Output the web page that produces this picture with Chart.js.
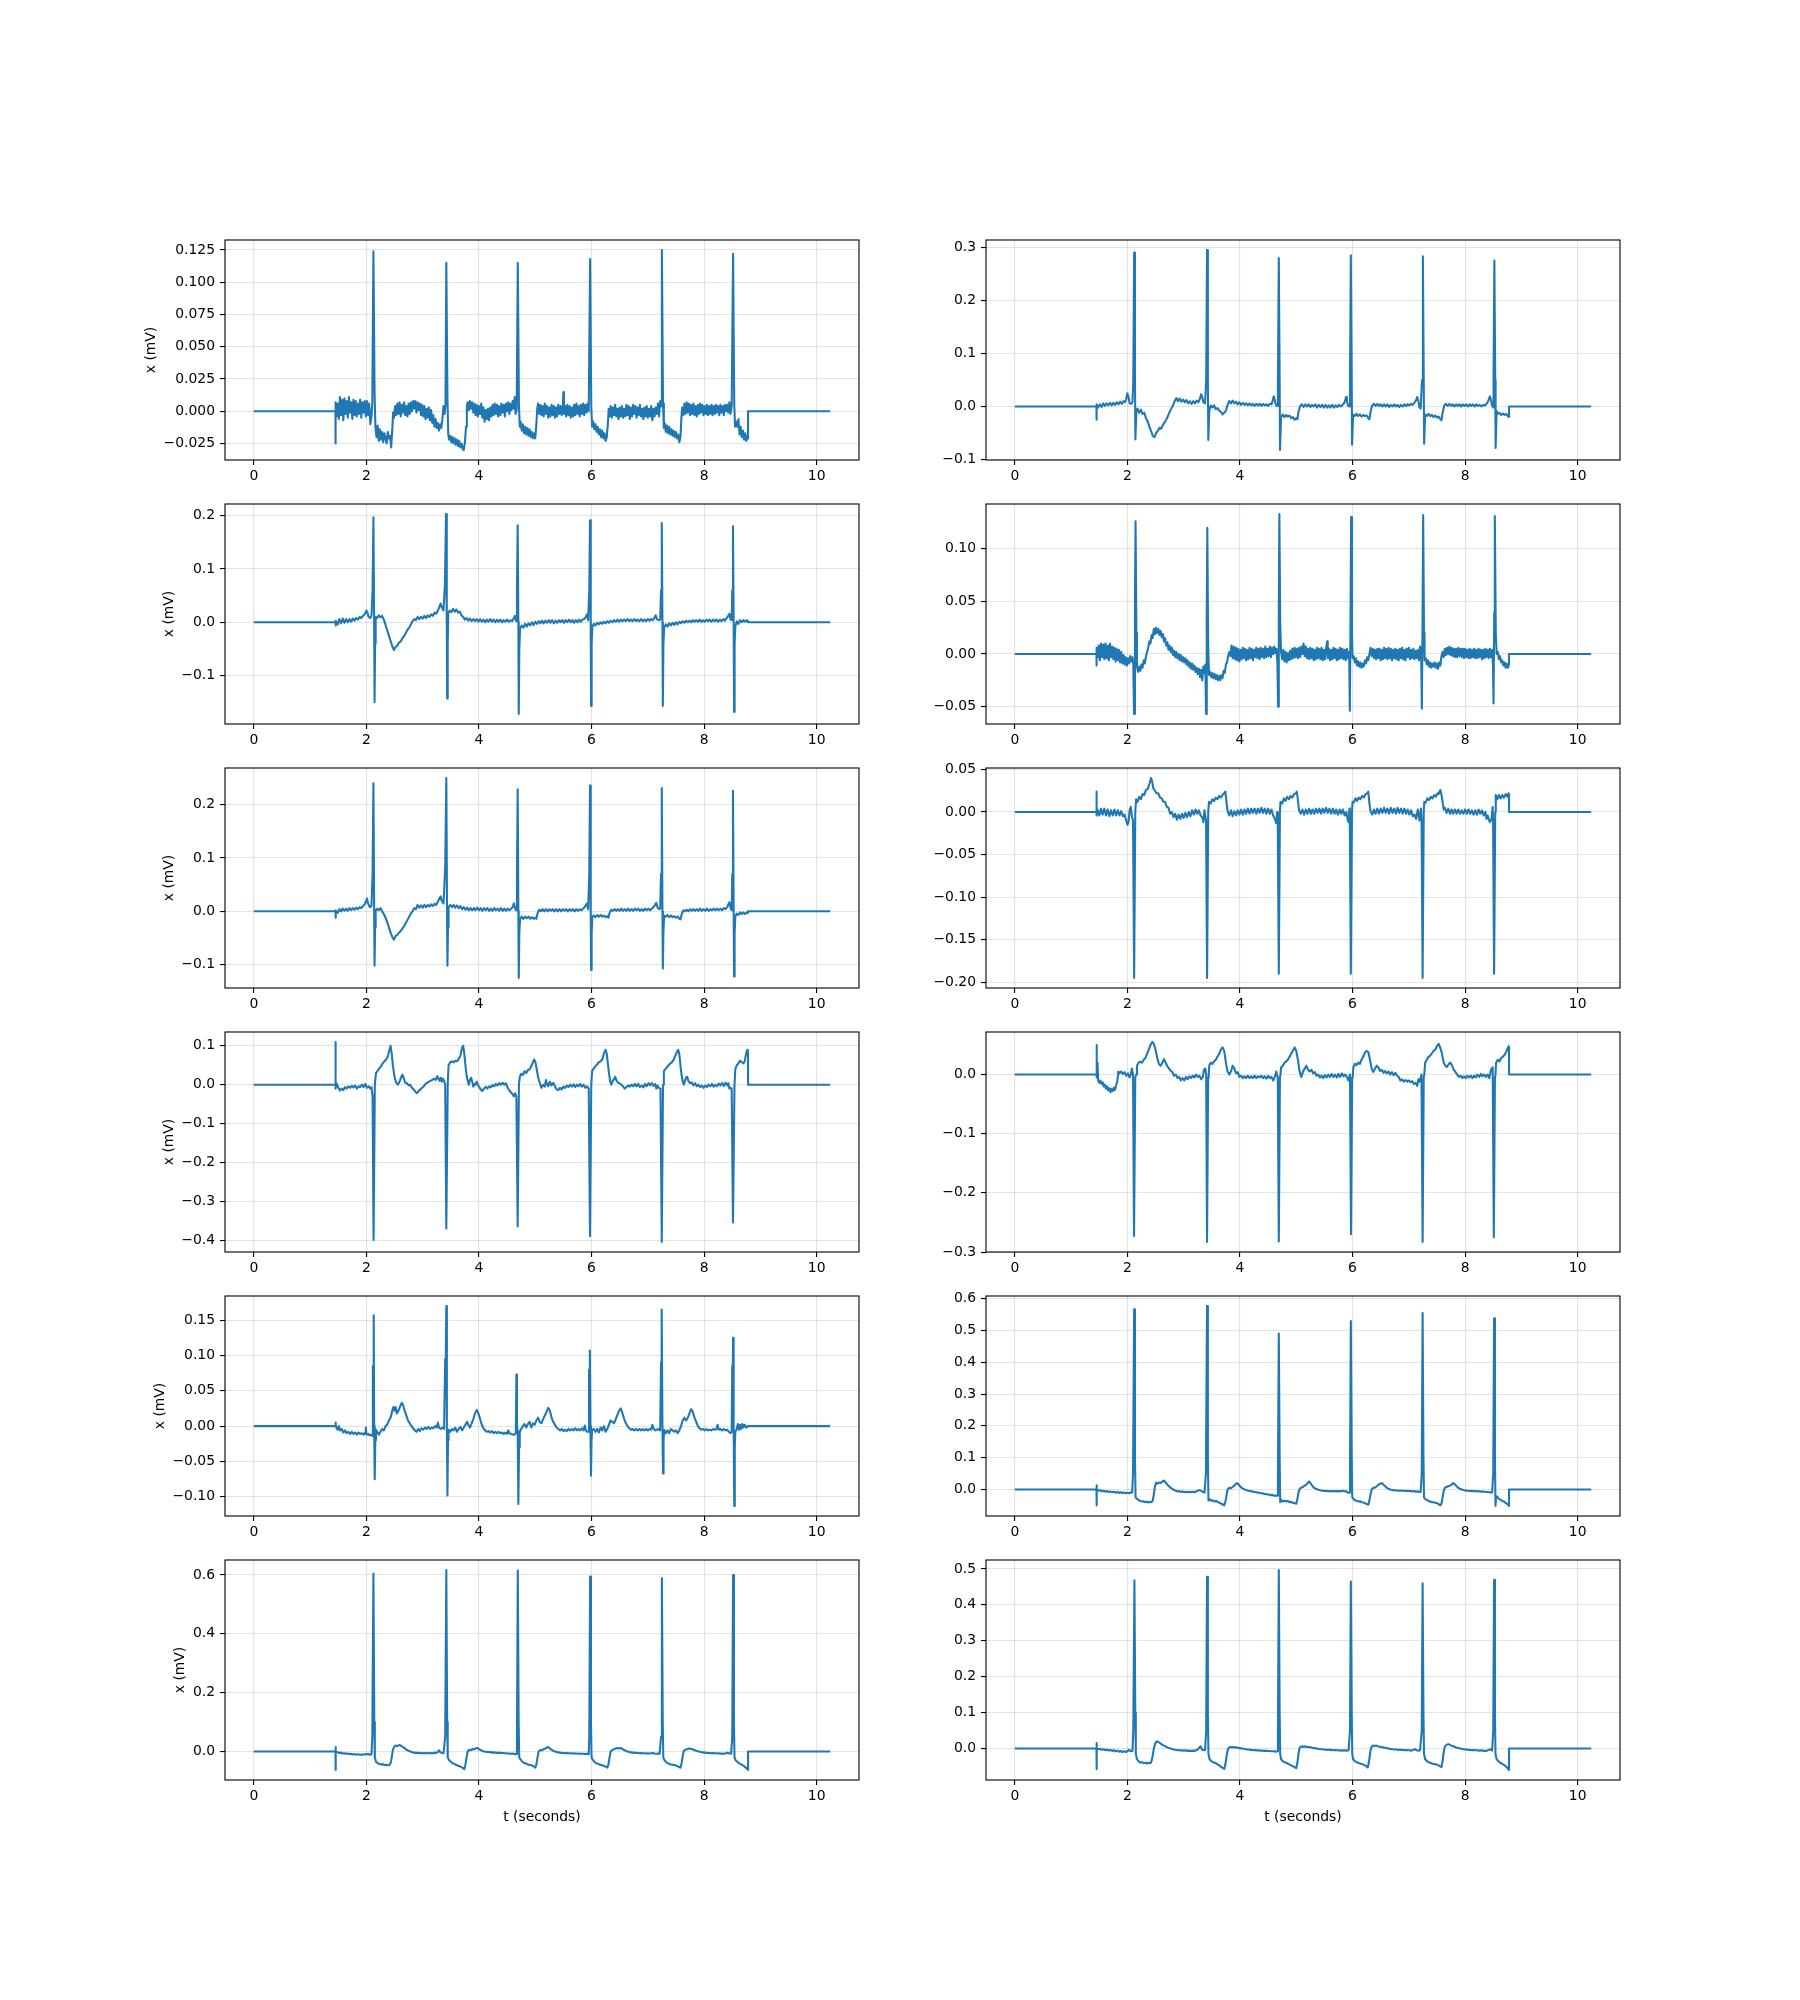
<!DOCTYPE html>
<html><head><meta charset="utf-8">
<script src="https://cdn.jsdelivr.net/npm/chart.js@4"></script>
<style>
html,body{margin:0;padding:0;background:#fff;}
body{width:1800px;height:2000px;position:relative;overflow:hidden;}
canvas{position:absolute;}
</style></head><body>
<script>
// ---------- DATA (t in seconds, x in mV) ----------
const xTicks = [0, 2, 4, 6, 8, 10];
const xLabel = 't (seconds)';
const yLabel = 'x (mV)';

const leadA = [[0,0],[1.45,0],[1.451,-0.025],[1.455,0.007],[1.47,-0.004],[1.49,0.006],[1.51,-0.006],[1.53,0.011],[1.55,-0.003],[1.57,0.009],[1.59,-0.007],[1.61,0.010],[1.63,-0.002],[1.65,0.008],[1.67,-0.005],[1.69,0.011],[1.71,-0.001],[1.73,0.007],[1.75,-0.006],[1.77,0.009],[1.79,-0.003],[1.81,0.008],[1.83,-0.004],[1.85,0.006],[1.87,-0.002],[1.89,0.009],[1.91,-0.005],[1.93,0.007],[1.95,-0.001],[1.97,0.008],[1.99,-0.004],[2.01,0.008],[2.03,-0.003],[2.05,0.006],[2.07,-0.010],[2.09,-0.004],[2.105,0.006],[2.125,0.124],[2.145,0.015],[2.16,-0.012],
[2.18,-0.020],[2.2,-0.011],[2.22,-0.023],[2.24,-0.014],[2.26,-0.022],[2.28,-0.016],[2.30,-0.024],[2.32,-0.017],[2.34,-0.021],[2.36,-0.025],[2.38,-0.016],[2.40,-0.021],[2.42,-0.019],[2.44,-0.028],[2.46,-0.014],[2.475,-0.001],
[2.49,-0.005],[2.51,0.004],[2.53,-0.003],[2.55,0.006],[2.57,-0.002],[2.59,0.007],[2.61,-0.004],[2.63,0.005],[2.65,-0.001],[2.67,0.007],[2.69,-0.003],[2.71,0.004],[2.73,-0.004],[2.75,0.006],[2.77,-0.002],[2.79,0.007],[2.81,0.000],[2.83,0.008],[2.85,0.002],[2.87,0.008],[2.89,-0.001],[2.91,0.007],[2.93,0.001],[2.95,0.006],[2.97,-0.003],[2.99,0.005],[3.01,-0.004],[3.03,0.004],[3.05,-0.006],[3.07,0.002],[3.09,-0.005],[3.11,0.003],[3.13,-0.007],[3.15,0.001],[3.17,-0.009],[3.19,-0.003],[3.21,-0.012],[3.23,-0.006],[3.25,-0.013],[3.27,-0.009],[3.29,-0.015],[3.31,-0.010],[3.33,-0.013],[3.35,-0.006],[3.37,0.004],[3.39,-0.002],[3.405,0.005],[3.42,0.115],[3.44,0.010],[3.455,-0.018],
[3.47,-0.022],[3.49,-0.019],[3.51,-0.024],[3.53,-0.020],[3.55,-0.025],[3.57,-0.021],[3.59,-0.026],[3.61,-0.022],[3.63,-0.027],[3.65,-0.023],[3.67,-0.028],[3.69,-0.025],[3.71,-0.029],[3.73,-0.030],[3.75,-0.024],[3.77,-0.012],[3.785,0.004],
[3.80,0.007],[3.82,0.001],[3.84,0.008],[3.86,0.002],[3.88,0.007],[3.90,-0.001],[3.92,0.006],[3.94,-0.003],[3.96,0.005],[3.98,-0.004],[4.00,0.004],[4.02,-0.002],[4.04,0.006],[4.06,-0.005],[4.08,0.003],[4.10,-0.008],[4.12,0.001],[4.14,-0.006],[4.16,0.002],[4.18,-0.007],[4.20,0.003],[4.22,-0.004],[4.24,0.005],[4.26,-0.003],[4.28,0.006],[4.30,-0.002],[4.32,0.005],[4.34,-0.004],[4.36,0.004],[4.38,-0.003],[4.40,0.006],[4.42,-0.001],[4.44,0.005],[4.46,-0.004],[4.48,0.006],[4.50,0.000],[4.52,0.007],[4.54,-0.002],[4.56,0.006],[4.58,0.001],[4.60,0.008],[4.62,0.002],[4.635,0.011],[4.65,-0.002],[4.67,0.001],[4.69,0.115],[4.71,0.005],[4.725,-0.012],
[4.74,-0.008],[4.76,-0.015],[4.78,-0.010],[4.80,-0.017],[4.82,-0.012],[4.84,-0.018],[4.86,-0.013],[4.88,-0.019],[4.90,-0.014],[4.92,-0.020],[4.94,-0.016],[4.96,-0.021],[4.98,-0.017],[5.00,-0.021],[5.02,-0.010],[5.035,0.002],
[5.05,0.006],[5.07,-0.002],[5.09,0.005],[5.11,-0.003],[5.13,0.004],[5.15,-0.004],[5.17,0.006],[5.19,-0.002],[5.21,0.004],[5.23,-0.005],[5.25,0.003],[5.27,-0.004],[5.29,0.005],[5.31,-0.003],[5.33,0.004],[5.35,-0.005],[5.37,0.003],[5.39,-0.004],[5.41,0.005],[5.43,-0.002],[5.45,0.004],[5.47,-0.003],[5.49,0.003],[5.50,0.015],[5.51,-0.002],[5.53,0.004],[5.55,-0.004],[5.57,0.005],[5.59,-0.003],[5.61,0.004],[5.63,-0.005],[5.65,0.003],[5.67,-0.004],[5.69,0.005],[5.71,-0.003],[5.73,0.006],[5.75,-0.002],[5.77,0.004],[5.79,-0.004],[5.81,0.005],[5.83,-0.002],[5.85,0.006],[5.87,-0.003],[5.89,0.005],[5.91,-0.001],[5.93,0.006],[5.95,0.000],[5.975,0.118],[5.995,0.004],[6.01,-0.012],
[6.03,-0.008],[6.05,-0.014],[6.07,-0.010],[6.09,-0.016],[6.11,-0.012],[6.13,-0.018],[6.15,-0.014],[6.17,-0.020],[6.19,-0.015],[6.21,-0.021],[6.23,-0.017],[6.25,-0.023],[6.27,-0.020],[6.29,-0.010],[6.305,0.002],
[6.32,-0.004],[6.34,0.004],[6.36,-0.005],[6.38,0.003],[6.40,-0.003],[6.42,0.005],[6.44,-0.004],[6.46,0.002],[6.48,-0.006],[6.50,0.003],[6.52,-0.004],[6.54,0.004],[6.56,-0.005],[6.58,0.002],[6.60,-0.004],[6.62,0.005],[6.64,-0.003],[6.66,0.004],[6.68,-0.006],[6.70,0.003],[6.72,-0.004],[6.74,0.005],[6.76,-0.002],[6.78,0.004],[6.80,-0.005],[6.82,0.003],[6.84,-0.003],[6.86,0.005],[6.88,-0.004],[6.90,0.002],[6.92,-0.006],[6.94,0.003],[6.96,-0.004],[6.98,0.004],[7.00,-0.005],[7.02,0.002],[7.04,-0.004],[7.06,0.004],[7.08,-0.007],[7.10,0.002],[7.12,-0.004],[7.14,0.003],[7.16,-0.002],[7.18,0.006],[7.20,-0.004],[7.22,0.008],[7.235,0.004],[7.25,0.125],[7.27,0.006],[7.285,-0.013],
[7.30,-0.009],[7.32,-0.016],[7.34,-0.011],[7.36,-0.017],[7.38,-0.012],[7.40,-0.018],[7.42,-0.014],[7.44,-0.019],[7.46,-0.015],[7.48,-0.020],[7.50,-0.016],[7.52,-0.021],[7.54,-0.018],[7.56,-0.024],[7.58,-0.020],[7.595,-0.006],[7.61,0.003],
[7.63,-0.003],[7.65,0.006],[7.67,-0.002],[7.69,0.007],[7.71,-0.001],[7.73,0.006],[7.75,-0.003],[7.77,0.005],[7.79,-0.002],[7.81,0.006],[7.83,-0.003],[7.85,0.004],[7.87,-0.004],[7.89,0.005],[7.91,-0.002],[7.93,0.006],[7.95,-0.001],[7.97,0.005],[7.99,-0.003],[8.01,0.004],[8.03,-0.002],[8.05,0.005],[8.07,-0.003],[8.09,0.004],[8.11,-0.002],[8.13,0.005],[8.15,-0.003],[8.17,0.004],[8.19,-0.002],[8.21,0.005],[8.23,-0.001],[8.25,0.004],[8.27,-0.003],[8.29,0.005],[8.31,-0.001],[8.33,0.004],[8.35,-0.003],[8.37,0.005],[8.39,0.000],[8.41,0.005],[8.43,-0.001],[8.45,0.007],[8.47,-0.002],[8.49,0.004],[8.515,0.122],[8.535,0.006],[8.55,-0.012],
[8.57,-0.008],[8.59,-0.012],[8.61,-0.006],[8.63,-0.018],[8.65,-0.012],[8.67,-0.020],[8.69,-0.015],[8.71,-0.022],[8.73,-0.017],[8.75,-0.023],[8.77,-0.019],[8.78,-0.021],[8.781,0],[10.24,0]];

const leadB = [[0,0],[1.45,0],[1.451,-0.025],[1.455,0.004],[1.48,-0.002],[1.51,0.004],[1.54,-0.001],[1.57,0.006],[1.60,0.001],[1.63,0.006],[1.66,0.002],[1.69,0.007],[1.72,0.002],[1.75,0.007],[1.78,0.003],[1.81,0.008],[1.84,0.004],[1.87,0.009],[1.90,0.005],[1.93,0.010],[1.96,0.008],[1.98,0.015],[2.00,0.025],[2.02,0.018],[2.04,0.006],[2.07,0.005],[2.09,0.008],[2.105,0.05],[2.12,0.29],[2.135,0.05],[2.142,-0.062],[2.16,-0.01],[2.18,-0.004],[2.21,-0.012],[2.24,-0.006],[2.27,-0.014],[2.30,-0.012],[2.33,-0.022],[2.36,-0.028],[2.39,-0.038],[2.42,-0.046],[2.45,-0.055],[2.48,-0.058],[2.51,-0.050],[2.54,-0.046],[2.57,-0.040],[2.60,-0.042],[2.63,-0.035],[2.66,-0.030],[2.69,-0.025],[2.72,-0.018],[2.75,-0.010],[2.78,-0.004],[2.81,0.002],[2.84,0.010],[2.87,0.016],[2.90,0.010],[2.93,0.015],[2.96,0.009],[2.99,0.013],[3.02,0.008],[3.05,0.012],[3.08,0.006],[3.11,0.010],[3.14,0.005],[3.17,0.010],[3.20,0.006],[3.23,0.011],[3.26,0.008],[3.29,0.015],[3.31,0.023],[3.33,0.018],[3.35,0.008],[3.38,0.006],[3.40,0.05],[3.415,0.295],[3.43,0.05],[3.438,-0.063],[3.455,-0.008],[3.48,0.002],[3.51,-0.002],[3.54,0.002],[3.57,-0.005],[3.60,-0.003],[3.63,-0.008],[3.66,-0.010],[3.69,-0.015],[3.72,-0.012],[3.75,-0.008],[3.78,0.003],[3.81,0.010],[3.84,0.006],[3.87,0.011],[3.90,0.006],[3.93,0.009],[3.96,0.004],[3.99,0.008],[4.02,0.003],[4.05,0.007],[4.08,0.003],[4.11,0.006],[4.14,0.002],[4.17,0.006],[4.20,0.002],[4.23,0.005],[4.26,0.001],[4.29,0.005],[4.32,0.002],[4.35,0.005],[4.38,0.001],[4.41,0.005],[4.44,0.002],[4.47,0.004],[4.50,0.001],[4.53,0.005],[4.56,0.004],[4.58,0.010],[4.60,0.019],[4.62,0.012],[4.64,0.003],[4.66,0.001],[4.675,0.05],[4.69,0.28],[4.705,0.05],[4.712,-0.082],[4.73,-0.02],[4.76,-0.015],[4.79,-0.020],[4.82,-0.016],[4.85,-0.019],[4.88,-0.017],[4.91,-0.022],[4.94,-0.020],[4.97,-0.025],[5.00,-0.022],[5.02,-0.024],[5.04,-0.010],[5.07,0.001],[5.10,0.004],[5.13,-0.001],[5.16,0.004],[5.19,0.000],[5.22,0.004],[5.25,-0.001],[5.28,0.003],[5.31,0.000],[5.34,0.004],[5.37,-0.002],[5.40,0.003],[5.43,-0.001],[5.46,0.003],[5.49,-0.002],[5.52,0.003],[5.55,-0.002],[5.58,0.002],[5.61,-0.002],[5.64,0.003],[5.67,-0.002],[5.70,0.002],[5.73,-0.001],[5.76,0.003],[5.79,0.000],[5.82,0.003],[5.85,0.006],[5.87,0.012],[5.885,0.018],[5.90,0.010],[5.92,0.002],[5.94,0.000],[5.955,0.05],[5.97,0.285],[5.985,0.05],[5.992,-0.072],[6.01,-0.015],[6.04,-0.018],[6.07,-0.014],[6.10,-0.018],[6.13,-0.015],[6.16,-0.019],[6.19,-0.016],[6.22,-0.018],[6.25,-0.017],[6.28,-0.022],[6.30,-0.024],[6.32,-0.010],[6.35,0.002],[6.38,0.005],[6.41,0.001],[6.44,0.005],[6.47,0.001],[6.50,0.004],[6.53,0.000],[6.56,0.004],[6.59,0.000],[6.62,0.004],[6.65,-0.001],[6.68,0.003],[6.71,0.000],[6.74,0.004],[6.77,0.000],[6.80,0.003],[6.83,-0.001],[6.86,0.003],[6.89,0.000],[6.92,0.004],[6.95,0.001],[6.98,0.004],[7.01,0.002],[7.04,0.005],[7.07,0.003],[7.10,0.007],[7.13,0.012],[7.15,0.018],[7.17,0.010],[7.19,-0.002],[7.21,-0.004],[7.235,0.05],[7.25,0.283],[7.265,0.05],[7.272,-0.07],[7.29,-0.015],[7.32,-0.018],[7.35,-0.014],[7.38,-0.018],[7.41,-0.016],[7.44,-0.020],[7.47,-0.017],[7.50,-0.021],[7.53,-0.019],[7.56,-0.024],[7.58,-0.026],[7.60,-0.012],[7.63,0.002],[7.66,0.005],[7.69,0.001],[7.72,0.005],[7.75,0.001],[7.78,0.004],[7.81,0.000],[7.84,0.004],[7.87,0.001],[7.90,0.004],[7.93,0.000],[7.96,0.004],[7.99,0.001],[8.02,0.004],[8.05,0.000],[8.08,0.004],[8.11,0.001],[8.14,0.004],[8.17,0.000],[8.20,0.004],[8.23,0.001],[8.26,0.003],[8.29,0.000],[8.32,0.003],[8.35,0.002],[8.38,0.005],[8.41,0.010],[8.44,0.019],[8.46,0.012],[8.48,0.002],[8.50,-0.002],[8.505,0.05],[8.52,0.275],[8.535,0.05],[8.542,-0.078],[8.56,-0.008],[8.58,-0.014],[8.61,-0.012],[8.64,-0.016],[8.67,-0.013],[8.70,-0.016],[8.73,-0.014],[8.76,-0.018],[8.78,-0.020],[8.781,0],[10.24,0]];

const leadC = [[0,0],[1.45,0],[1.451,-0.006],[1.46,0.003],[1.49,-0.004],[1.52,0.006],[1.55,-0.002],[1.58,0.007],[1.61,-0.001],[1.64,0.006],[1.67,0.000],[1.70,0.006],[1.73,0.001],[1.76,0.007],[1.79,0.003],[1.82,0.008],[1.85,0.005],[1.88,0.010],[1.91,0.008],[1.94,0.012],[1.97,0.015],[2.00,0.022],[2.02,0.018],[2.04,0.010],[2.07,0.008],[2.09,0.012],[2.11,0.06],[2.125,0.197],[2.138,0.0],[2.145,-0.15],[2.155,-0.04],[2.165,0.010],[2.19,0.008],[2.22,0.013],[2.25,0.009],[2.28,0.012],[2.31,0.005],[2.34,-0.005],[2.37,-0.015],[2.40,-0.025],[2.43,-0.035],[2.46,-0.045],[2.49,-0.052],[2.52,-0.046],[2.55,-0.044],[2.58,-0.038],[2.61,-0.036],[2.64,-0.030],[2.67,-0.026],[2.70,-0.020],[2.73,-0.014],[2.76,-0.010],[2.79,-0.004],[2.82,0.002],[2.85,0.006],[2.88,0.004],[2.91,0.010],[2.94,0.006],[2.97,0.010],[3.00,0.007],[3.03,0.012],[3.06,0.008],[3.09,0.013],[3.12,0.010],[3.15,0.015],[3.18,0.012],[3.21,0.018],[3.24,0.016],[3.27,0.022],[3.30,0.030],[3.32,0.035],[3.34,0.028],[3.37,0.022],[3.395,0.07],[3.415,0.203],[3.428,0.0],[3.435,-0.143],[3.445,-0.04],[3.455,0.018],[3.48,0.022],[3.51,0.019],[3.54,0.025],[3.57,0.020],[3.60,0.024],[3.63,0.018],[3.66,0.020],[3.69,0.013],[3.72,0.010],[3.75,0.005],[3.78,0.008],[3.81,0.003],[3.84,0.007],[3.87,0.002],[3.90,0.006],[3.93,0.002],[3.96,0.006],[3.99,0.001],[4.02,0.006],[4.05,0.001],[4.08,0.005],[4.11,0.000],[4.14,0.005],[4.17,0.001],[4.20,0.006],[4.23,0.001],[4.26,0.005],[4.29,0.000],[4.32,0.005],[4.35,0.001],[4.38,0.005],[4.41,0.000],[4.44,0.004],[4.47,0.001],[4.50,0.005],[4.53,0.001],[4.56,0.004],[4.59,0.002],[4.62,0.008],[4.64,0.012],[4.66,0.002],[4.675,0.06],[4.688,0.182],[4.70,0.0],[4.707,-0.172],[4.717,-0.05],[4.73,-0.012],[4.76,-0.006],[4.79,-0.010],[4.82,-0.003],[4.85,-0.008],[4.88,-0.002],[4.91,-0.006],[4.94,0.000],[4.97,-0.005],[5.00,0.001],[5.03,-0.003],[5.06,0.002],[5.09,-0.002],[5.12,0.003],[5.15,-0.002],[5.18,0.003],[5.21,-0.001],[5.24,0.004],[5.27,-0.001],[5.30,0.004],[5.33,-0.002],[5.36,0.003],[5.39,-0.001],[5.42,0.004],[5.45,0.000],[5.48,0.004],[5.51,-0.001],[5.54,0.004],[5.57,0.000],[5.60,0.005],[5.63,0.000],[5.66,0.004],[5.69,-0.001],[5.72,0.004],[5.75,0.000],[5.78,0.005],[5.81,0.001],[5.84,0.005],[5.87,0.006],[5.90,0.010],[5.92,0.015],[5.94,0.004],[5.96,0.06],[5.973,0.191],[5.985,0.0],[5.992,-0.157],[6.002,-0.04],[6.015,-0.008],[6.04,-0.003],[6.07,-0.006],[6.10,-0.001],[6.13,-0.004],[6.16,0.000],[6.19,-0.003],[6.22,0.001],[6.25,-0.002],[6.28,0.002],[6.31,-0.001],[6.34,0.003],[6.37,0.000],[6.40,0.004],[6.43,0.001],[6.46,0.005],[6.49,0.001],[6.52,0.005],[6.55,0.002],[6.58,0.005],[6.61,0.002],[6.64,0.006],[6.67,0.002],[6.70,0.005],[6.73,0.002],[6.76,0.006],[6.79,0.002],[6.82,0.005],[6.85,0.002],[6.88,0.006],[6.91,0.002],[6.94,0.005],[6.97,0.002],[7.00,0.006],[7.03,0.003],[7.06,0.006],[7.09,0.004],[7.12,0.009],[7.14,0.013],[7.16,0.006],[7.19,0.004],[7.22,0.005],[7.235,0.06],[7.248,0.186],[7.26,0.0],[7.267,-0.157],[7.277,-0.04],[7.29,-0.010],[7.32,-0.004],[7.35,-0.008],[7.38,-0.002],[7.41,-0.006],[7.44,-0.001],[7.47,-0.005],[7.50,0.000],[7.53,-0.004],[7.56,0.001],[7.59,-0.002],[7.62,0.002],[7.65,-0.001],[7.68,0.003],[7.71,0.000],[7.74,0.003],[7.77,0.000],[7.80,0.004],[7.83,0.001],[7.86,0.004],[7.89,0.001],[7.92,0.005],[7.95,0.001],[7.98,0.004],[8.01,0.001],[8.04,0.005],[8.07,0.002],[8.10,0.005],[8.13,0.001],[8.16,0.005],[8.19,0.002],[8.22,0.005],[8.25,0.001],[8.28,0.005],[8.31,0.002],[8.34,0.006],[8.37,0.003],[8.40,0.008],[8.43,0.012],[8.45,0.016],[8.47,0.005],[8.49,0.004],[8.50,0.06],[8.513,0.18],[8.525,0.0],[8.532,-0.168],[8.542,-0.04],[8.555,-0.008],[8.58,0.002],[8.61,-0.003],[8.64,0.004],[8.67,0.000],[8.70,0.004],[8.73,0.001],[8.76,0.004],[8.78,0.002],[8.781,0],[10.24,0]];

const leadD = [[0,0],[1.45,0],[1.451,-0.011],[1.455,0.006],[1.47,-0.003],[1.49,0.008],[1.51,-0.006],[1.53,0.010],[1.55,-0.003],[1.57,0.009],[1.59,-0.005],[1.61,0.010],[1.63,-0.004],[1.65,0.008],[1.67,-0.006],[1.69,0.010],[1.71,-0.003],[1.73,0.007],[1.75,-0.005],[1.77,0.006],[1.79,-0.007],[1.81,0.005],[1.83,-0.006],[1.85,0.004],[1.87,-0.008],[1.89,0.002],[1.91,-0.009],[1.93,-0.001],[1.95,-0.010],[1.97,-0.003],[1.99,-0.011],[2.01,-0.004],[2.03,-0.009],[2.05,-0.002],[2.07,-0.007],[2.09,-0.003],[2.105,-0.010],[2.118,-0.057],[2.135,0.05],[2.145,0.126],[2.16,0.02],[2.17,-0.012],
[2.19,-0.017],[2.21,-0.012],[2.23,-0.016],[2.25,-0.010],[2.27,-0.013],[2.29,-0.006],[2.31,-0.009],[2.33,-0.002],[2.35,0.002],[2.37,0.006],[2.39,0.012],[2.41,0.010],[2.43,0.018],[2.45,0.015],[2.47,0.024],[2.49,0.019],[2.51,0.025],[2.53,0.020],[2.55,0.024],[2.57,0.018],[2.59,0.022],[2.61,0.016],[2.63,0.019],[2.65,0.012],[2.67,0.015],[2.69,0.008],[2.71,0.011],[2.73,0.004],[2.75,0.008],[2.77,0.002],[2.79,0.006],[2.81,-0.001],[2.83,0.003],[2.85,-0.003],[2.87,0.002],[2.89,-0.004],[2.91,0.000],[2.93,-0.006],[2.95,-0.001],[2.97,-0.007],[2.99,-0.003],[3.01,-0.008],[3.03,-0.004],[3.05,-0.010],[3.07,-0.006],[3.09,-0.012],[3.11,-0.008],[3.13,-0.014],[3.15,-0.009],[3.17,-0.015],[3.19,-0.011],[3.21,-0.017],[3.23,-0.013],[3.25,-0.019],[3.27,-0.014],[3.29,-0.022],[3.31,-0.015],[3.33,-0.025],[3.35,-0.012],[3.37,-0.018],[3.385,-0.010],[3.398,-0.057],[3.41,0.04],[3.42,0.12],[3.435,0.01],[3.45,-0.020],
[3.47,-0.017],[3.49,-0.022],[3.51,-0.018],[3.53,-0.023],[3.55,-0.019],[3.57,-0.024],[3.59,-0.020],[3.61,-0.025],[3.63,-0.021],[3.65,-0.025],[3.67,-0.020],[3.69,-0.023],[3.71,-0.016],[3.73,-0.018],[3.75,-0.010],[3.77,-0.008],[3.79,-0.002],[3.81,0.002],[3.83,-0.002],[3.85,0.008],
[3.87,-0.004],[3.89,0.007],[3.91,-0.005],[3.93,0.006],[3.95,-0.006],[3.97,0.005],[3.99,-0.007],[4.01,0.004],[4.03,-0.005],[4.05,0.006],[4.07,-0.004],[4.09,0.005],[4.11,-0.006],[4.13,0.004],[4.15,-0.005],[4.17,0.006],[4.19,-0.004],[4.21,0.005],[4.23,-0.006],[4.25,0.004],[4.27,-0.003],[4.29,0.006],[4.31,-0.004],[4.33,0.005],[4.35,-0.005],[4.37,0.006],[4.39,-0.003],[4.41,0.005],[4.43,-0.004],[4.45,0.007],[4.47,-0.003],[4.49,0.005],[4.51,-0.002],[4.53,0.007],[4.55,-0.003],[4.57,0.006],[4.59,0.000],[4.61,0.007],[4.63,0.001],[4.65,0.005],[4.665,-0.008],[4.678,-0.05],[4.69,0.04],[4.70,0.133],[4.715,0.03],[4.73,0.002],
[4.75,-0.005],[4.77,0.004],[4.79,-0.007],[4.81,0.002],[4.83,-0.008],[4.85,0.001],[4.87,-0.006],[4.89,0.003],[4.91,-0.005],[4.93,0.005],[4.95,-0.004],[4.97,0.006],[4.99,-0.003],[5.01,0.005],[5.03,-0.004],[5.05,0.006],[5.07,-0.003],[5.09,0.007],[5.11,0.000],[5.13,0.010],[5.15,-0.002],[5.17,0.007],[5.19,-0.004],[5.21,0.005],[5.23,-0.005],[5.25,0.006],[5.27,-0.004],[5.29,0.005],[5.31,-0.006],[5.33,0.004],[5.35,-0.005],[5.37,0.006],[5.39,-0.004],[5.41,0.005],[5.43,-0.005],[5.45,0.006],[5.47,-0.006],[5.49,0.004],[5.51,-0.005],[5.53,0.005],[5.55,0.012],[5.56,-0.004],[5.58,0.005],[5.60,-0.006],[5.62,0.004],[5.64,-0.005],[5.66,0.006],[5.68,-0.004],[5.70,0.005],[5.72,-0.006],[5.74,0.004],[5.76,-0.005],[5.78,0.006],[5.80,-0.004],[5.82,0.005],[5.84,-0.005],[5.86,0.004],[5.88,-0.006],[5.90,0.005],[5.92,-0.004],[5.94,0.002],[5.952,-0.054],[5.965,0.04],[5.975,0.13],[5.99,0.02],[6.00,-0.004],
[6.02,-0.002],[6.04,-0.008],[6.06,-0.004],[6.08,-0.011],[6.10,-0.007],[6.12,-0.012],[6.14,-0.008],[6.16,-0.013],[6.18,-0.009],[6.20,-0.012],[6.22,-0.006],[6.24,-0.009],[6.26,-0.003],[6.28,-0.006],[6.30,0.000],[6.32,0.006],[6.34,-0.002],[6.36,0.005],[6.38,-0.004],[6.40,0.004],[6.42,-0.005],[6.44,0.005],[6.46,-0.004],[6.48,0.005],[6.50,-0.006],[6.52,0.004],[6.54,-0.005],[6.56,0.006],[6.58,-0.004],[6.60,0.005],[6.62,-0.005],[6.64,0.006],[6.66,-0.004],[6.68,0.005],[6.70,-0.006],[6.72,0.004],[6.74,-0.004],[6.76,0.005],[6.78,-0.005],[6.80,0.004],[6.82,-0.006],[6.84,0.005],[6.86,-0.004],[6.88,0.006],[6.90,-0.005],[6.92,0.004],[6.94,-0.006],[6.96,0.005],[6.98,-0.003],[7.00,0.006],[7.02,-0.005],[7.04,0.004],[7.06,-0.004],[7.08,0.005],[7.10,-0.005],[7.12,0.003],[7.14,-0.004],[7.16,0.004],[7.18,-0.006],[7.20,0.007],[7.22,-0.004],[7.232,-0.052],[7.245,0.04],[7.255,0.132],[7.27,0.02],[7.28,-0.006],
[7.30,-0.004],[7.32,-0.010],[7.34,-0.006],[7.36,-0.012],[7.38,-0.008],[7.40,-0.013],[7.42,-0.009],[7.44,-0.012],[7.46,-0.008],[7.48,-0.013],[7.50,-0.009],[7.52,-0.014],[7.54,-0.008],[7.56,-0.011],[7.58,-0.002],[7.60,0.002],[7.62,-0.003],[7.64,0.005],[7.66,-0.001],[7.68,0.006],[7.70,0.000],[7.72,0.007],[7.74,-0.001],[7.76,0.006],[7.78,-0.002],[7.80,0.005],[7.82,-0.003],[7.84,0.005],[7.86,-0.003],[7.88,0.006],[7.90,-0.002],[7.92,0.005],[7.94,-0.003],[7.96,0.005],[7.98,-0.004],[8.00,0.005],[8.02,-0.003],[8.04,0.004],[8.06,-0.004],[8.08,0.005],[8.10,-0.004],[8.12,0.004],[8.14,-0.003],[8.16,0.005],[8.18,-0.004],[8.20,0.004],[8.22,-0.004],[8.24,0.005],[8.26,-0.003],[8.28,0.004],[8.30,-0.005],[8.32,0.004],[8.34,-0.004],[8.36,0.005],[8.38,-0.003],[8.40,0.004],[8.42,-0.004],[8.44,0.005],[8.46,-0.003],[8.48,0.004],[8.495,-0.010],[8.505,-0.047],[8.518,0.04],[8.528,0.131],[8.545,0.02],[8.56,0.0],
[8.58,0.002],[8.60,-0.005],[8.62,-0.002],[8.64,-0.008],[8.66,-0.006],[8.68,-0.011],[8.70,-0.008],[8.72,-0.013],[8.74,-0.009],[8.76,-0.013],[8.78,-0.010],[8.781,0],[10.24,0]];

const leadE = [[0,0],[1.45,0],[1.451,-0.012],[1.46,0.002],[1.49,-0.003],[1.52,0.004],[1.55,0.000],[1.58,0.005],[1.61,0.001],[1.64,0.005],[1.67,0.001],[1.70,0.006],[1.73,0.002],[1.76,0.006],[1.79,0.003],[1.82,0.007],[1.85,0.004],[1.88,0.008],[1.91,0.006],[1.94,0.010],[1.97,0.013],[1.99,0.018],[2.01,0.024],[2.03,0.015],[2.06,0.008],[2.09,0.010],[2.11,0.07],[2.125,0.24],[2.138,0.0],[2.145,-0.102],[2.155,-0.03],[2.165,0.002],[2.19,0.005],[2.22,0.002],[2.25,0.006],[2.28,0.000],[2.31,-0.005],[2.34,-0.012],[2.37,-0.020],[2.40,-0.030],[2.43,-0.040],[2.46,-0.048],[2.49,-0.053],[2.52,-0.046],[2.55,-0.044],[2.58,-0.040],[2.61,-0.037],[2.64,-0.032],[2.67,-0.028],[2.70,-0.022],[2.73,-0.016],[2.76,-0.010],[2.79,-0.004],[2.82,0.000],[2.85,0.006],[2.88,0.004],[2.91,0.012],[2.94,0.007],[2.97,0.011],[3.00,0.007],[3.03,0.012],[3.06,0.008],[3.09,0.012],[3.12,0.009],[3.15,0.013],[3.18,0.010],[3.21,0.014],[3.24,0.012],[3.27,0.018],[3.30,0.025],[3.32,0.028],[3.34,0.020],[3.37,0.015],[3.40,0.08],[3.42,0.25],[3.433,0.0],[3.44,-0.102],[3.45,-0.03],[3.46,0.008],[3.49,0.012],[3.52,0.008],[3.55,0.012],[3.58,0.007],[3.61,0.011],[3.64,0.006],[3.67,0.010],[3.70,0.004],[3.73,0.008],[3.76,0.003],[3.79,0.007],[3.82,0.002],[3.85,0.006],[3.88,0.002],[3.91,0.006],[3.94,0.002],[3.97,0.007],[4.00,0.002],[4.03,0.006],[4.06,0.001],[4.09,0.006],[4.12,0.002],[4.15,0.006],[4.18,0.001],[4.21,0.005],[4.24,0.001],[4.27,0.006],[4.30,0.002],[4.33,0.005],[4.36,0.001],[4.39,0.006],[4.42,0.001],[4.45,0.005],[4.48,0.001],[4.51,0.005],[4.54,0.002],[4.57,0.005],[4.60,0.008],[4.62,0.015],[4.64,0.006],[4.66,0.002],[4.675,0.07],[4.688,0.229],[4.70,0.0],[4.707,-0.125],[4.717,-0.04],[4.73,-0.015],[4.76,-0.010],[4.79,-0.014],[4.82,-0.010],[4.85,-0.013],[4.88,-0.010],[4.91,-0.014],[4.94,-0.011],[4.97,-0.014],[5.00,-0.012],[5.02,-0.014],[5.04,-0.004],[5.07,0.003],[5.10,0.000],[5.13,0.004],[5.16,0.000],[5.19,0.004],[5.22,0.000],[5.25,0.004],[5.28,0.001],[5.31,0.004],[5.34,0.000],[5.37,0.004],[5.40,0.000],[5.43,0.004],[5.46,0.000],[5.49,0.004],[5.52,0.001],[5.55,0.004],[5.58,0.000],[5.61,0.004],[5.64,0.001],[5.67,0.004],[5.70,0.000],[5.73,0.004],[5.76,0.001],[5.79,0.004],[5.82,0.002],[5.85,0.005],[5.88,0.008],[5.90,0.012],[5.92,0.015],[5.94,0.004],[5.96,0.07],[5.973,0.236],[5.985,0.0],[5.992,-0.11],[6.002,-0.04],[6.015,-0.010],[6.04,-0.008],[6.07,-0.011],[6.10,-0.007],[6.13,-0.010],[6.16,-0.007],[6.19,-0.010],[6.22,-0.008],[6.25,-0.011],[6.28,-0.009],[6.30,-0.012],[6.32,-0.003],[6.35,0.003],[6.38,0.001],[6.41,0.004],[6.44,0.001],[6.47,0.004],[6.50,0.001],[6.53,0.005],[6.56,0.001],[6.59,0.004],[6.62,0.001],[6.65,0.005],[6.68,0.001],[6.71,0.004],[6.74,0.001],[6.77,0.005],[6.80,0.002],[6.83,0.005],[6.86,0.001],[6.89,0.004],[6.92,0.001],[6.95,0.005],[6.98,0.002],[7.01,0.005],[7.04,0.002],[7.07,0.005],[7.10,0.008],[7.13,0.012],[7.15,0.016],[7.17,0.008],[7.20,0.004],[7.22,0.005],[7.235,0.07],[7.248,0.231],[7.26,0.0],[7.267,-0.107],[7.277,-0.04],[7.29,-0.008],[7.32,-0.010],[7.35,-0.007],[7.38,-0.011],[7.41,-0.008],[7.44,-0.011],[7.47,-0.009],[7.50,-0.012],[7.53,-0.010],[7.56,-0.014],[7.58,-0.015],[7.60,-0.006],[7.63,0.002],[7.66,0.000],[7.69,0.003],[7.72,0.000],[7.75,0.004],[7.78,0.001],[7.81,0.004],[7.84,0.001],[7.87,0.004],[7.90,0.001],[7.93,0.005],[7.96,0.001],[7.99,0.004],[8.02,0.001],[8.05,0.005],[8.08,0.001],[8.11,0.004],[8.14,0.002],[8.17,0.005],[8.20,0.002],[8.23,0.005],[8.26,0.002],[8.29,0.005],[8.32,0.002],[8.35,0.006],[8.38,0.004],[8.41,0.008],[8.43,0.013],[8.45,0.017],[8.47,0.006],[8.49,0.002],[8.50,0.07],[8.513,0.226],[8.525,0.0],[8.532,-0.122],[8.542,-0.04],[8.555,-0.010],[8.58,-0.004],[8.61,-0.007],[8.64,-0.002],[8.67,-0.005],[8.70,-0.002],[8.73,-0.005],[8.76,-0.002],[8.78,-0.003],[8.781,0],[10.24,0]];

const leadF = [[0,0],[1.45,0],[1.451,0.024],[1.455,-0.004],[1.47,0.003],[1.50,-0.004],[1.53,0.004],[1.56,-0.003],[1.59,0.004],[1.62,-0.004],[1.65,0.003],[1.68,-0.005],[1.71,0.002],[1.74,-0.004],[1.77,0.003],[1.80,-0.004],[1.83,0.002],[1.86,-0.004],[1.89,0.001],[1.92,-0.005],[1.95,-0.003],[1.98,-0.010],[2.00,-0.015],[2.02,-0.012],[2.04,0.002],[2.06,0.006],[2.08,-0.005],[2.10,-0.01],[2.12,-0.195],[2.14,0.0],[2.155,0.015],[2.18,0.012],[2.21,0.018],[2.24,0.015],[2.27,0.021],[2.30,0.020],[2.33,0.026],[2.36,0.027],[2.39,0.033],[2.42,0.040],[2.44,0.036],[2.46,0.028],[2.49,0.025],[2.52,0.022],[2.55,0.022],[2.58,0.017],[2.61,0.016],[2.64,0.012],[2.67,0.012],[2.70,0.006],[2.73,0.005],[2.76,-0.002],[2.79,0.000],[2.82,-0.006],[2.85,-0.002],[2.88,-0.009],[2.91,-0.003],[2.94,-0.008],[2.97,-0.002],[3.00,-0.007],[3.03,-0.001],[3.06,-0.006],[3.09,0.000],[3.12,-0.005],[3.15,0.002],[3.18,-0.003],[3.21,0.003],[3.24,-0.002],[3.27,0.002],[3.30,-0.004],[3.33,-0.006],[3.35,-0.012],[3.37,0.002],[3.385,-0.005],[3.398,-0.01],[3.416,-0.195],[3.436,0.0],[3.45,0.012],[3.48,0.010],[3.51,0.015],[3.54,0.013],[3.57,0.017],[3.60,0.015],[3.63,0.019],[3.66,0.017],[3.69,0.020],[3.72,0.022],[3.74,0.024],[3.76,0.012],[3.78,0.001],[3.81,-0.004],[3.84,0.002],[3.87,-0.005],[3.90,0.001],[3.93,-0.004],[3.96,0.002],[3.99,-0.003],[4.02,0.003],[4.05,-0.003],[4.08,0.003],[4.11,-0.002],[4.14,0.004],[4.17,-0.002],[4.20,0.004],[4.23,-0.001],[4.26,0.004],[4.29,-0.002],[4.32,0.004],[4.35,-0.001],[4.38,0.005],[4.41,-0.001],[4.44,0.004],[4.47,-0.002],[4.50,0.004],[4.53,-0.002],[4.56,0.003],[4.59,-0.004],[4.62,-0.008],[4.645,-0.013],[4.66,0.0],[4.672,-0.01],[4.69,-0.19],[4.71,0.0],[4.72,0.012],[4.75,0.010],[4.78,0.016],[4.81,0.013],[4.84,0.018],[4.87,0.015],[4.90,0.019],[4.93,0.017],[4.96,0.021],[4.99,0.022],[5.01,0.024],[5.03,0.014],[5.05,0.002],[5.08,-0.002],[5.11,0.003],[5.14,-0.003],[5.17,0.003],[5.20,-0.002],[5.23,0.004],[5.26,-0.002],[5.29,0.003],[5.32,-0.002],[5.35,0.004],[5.38,-0.001],[5.41,0.004],[5.44,-0.002],[5.47,0.004],[5.50,-0.001],[5.53,0.005],[5.56,-0.001],[5.59,0.004],[5.62,-0.002],[5.65,0.004],[5.68,-0.002],[5.71,0.003],[5.74,-0.003],[5.77,0.003],[5.80,-0.002],[5.83,0.003],[5.86,-0.004],[5.89,0.000],[5.91,-0.008],[5.93,-0.012],[5.945,0.004],[5.952,-0.01],[5.97,-0.19],[5.99,0.0],[6.00,0.012],[6.02,0.011],[6.05,0.016],[6.08,0.013],[6.11,0.017],[6.14,0.015],[6.17,0.019],[6.20,0.017],[6.23,0.021],[6.26,0.022],[6.28,0.024],[6.30,0.010],[6.32,0.001],[6.35,-0.003],[6.38,0.003],[6.41,-0.002],[6.44,0.004],[6.47,-0.002],[6.50,0.004],[6.53,-0.001],[6.56,0.005],[6.59,-0.001],[6.62,0.004],[6.65,-0.002],[6.68,0.005],[6.71,-0.001],[6.74,0.004],[6.77,-0.002],[6.80,0.005],[6.83,-0.001],[6.86,0.004],[6.89,-0.002],[6.92,0.004],[6.95,-0.002],[6.98,0.003],[7.01,-0.003],[7.04,0.002],[7.07,-0.005],[7.10,-0.003],[7.13,-0.008],[7.16,0.003],[7.19,-0.010],[7.215,0.004],[7.227,-0.01],[7.245,-0.195],[7.265,0.0],[7.275,0.012],[7.30,0.011],[7.33,0.016],[7.36,0.014],[7.39,0.018],[7.42,0.016],[7.45,0.020],[7.48,0.018],[7.51,0.022],[7.53,0.021],[7.56,0.026],[7.58,0.020],[7.60,0.012],[7.62,0.003],[7.64,0.005],[7.67,-0.001],[7.70,0.004],[7.73,-0.002],[7.76,0.003],[7.79,-0.002],[7.82,0.003],[7.85,-0.002],[7.88,0.003],[7.91,-0.002],[7.94,0.002],[7.97,-0.002],[8.00,0.003],[8.03,-0.002],[8.06,0.003],[8.09,-0.002],[8.12,0.002],[8.15,-0.003],[8.18,0.002],[8.21,-0.003],[8.24,0.003],[8.27,-0.002],[8.30,0.002],[8.33,-0.004],[8.36,0.000],[8.38,-0.008],[8.40,-0.004],[8.42,-0.008],[8.44,-0.012],[8.47,-0.008],[8.49,0.006],[8.497,-0.01],[8.515,-0.19],[8.535,0.0],[8.545,0.02],[8.57,0.015],[8.60,0.020],[8.63,0.016],[8.66,0.020],[8.69,0.017],[8.72,0.021],[8.75,0.018],[8.77,0.022],[8.78,0.021],[8.781,0],[10.24,0]];

const leadG = [[0,0],[1.45,0],[1.451,0.11],[1.455,-0.01],[1.47,0.003],[1.49,-0.004],[1.51,-0.010],[1.53,-0.015],[1.56,-0.010],[1.59,-0.014],[1.62,-0.006],[1.65,-0.010],[1.68,-0.004],[1.71,-0.008],[1.74,-0.003],[1.77,-0.007],[1.80,-0.002],[1.83,-0.010],[1.86,-0.004],[1.89,-0.006],[1.92,0.000],[1.95,-0.006],[1.98,0.002],[2.01,-0.008],[2.04,-0.004],[2.07,-0.010],[2.09,-0.006],[2.11,-0.03],[2.128,-0.40],[2.15,0.0],[2.17,0.030],[2.20,0.036],[2.23,0.042],[2.26,0.048],[2.29,0.055],[2.32,0.060],[2.35,0.065],[2.38,0.072],[2.41,0.090],[2.43,0.100],[2.45,0.080],[2.47,0.050],[2.50,0.020],[2.53,0.005],[2.56,0.000],[2.59,0.008],[2.62,0.020],[2.64,0.026],[2.66,0.018],[2.69,0.005],[2.72,0.004],[2.75,-0.002],[2.78,0.000],[2.81,-0.008],[2.84,-0.012],[2.87,-0.018],[2.90,-0.022],[2.93,-0.016],[2.96,-0.012],[2.99,-0.008],[3.02,-0.004],[3.05,0.002],[3.08,0.005],[3.11,0.008],[3.14,0.010],[3.17,0.012],[3.20,0.016],[3.23,0.012],[3.26,0.022],[3.28,0.015],[3.30,0.010],[3.32,0.018],[3.34,0.008],[3.36,0.016],[3.38,0.010],[3.40,0.0],[3.42,-0.37],[3.445,0.0],[3.46,0.050],[3.49,0.058],[3.52,0.060],[3.55,0.058],[3.58,0.062],[3.61,0.060],[3.64,0.066],[3.67,0.075],[3.70,0.095],[3.72,0.100],[3.74,0.080],[3.76,0.050],[3.78,0.025],[3.80,0.010],[3.82,0.000],[3.84,0.012],[3.86,0.018],[3.88,0.008],[3.90,-0.005],[3.92,0.002],[3.94,0.000],[3.96,0.008],[3.98,0.000],[4.00,-0.005],[4.03,-0.012],[4.06,-0.016],[4.09,-0.010],[4.12,-0.005],[4.15,-0.010],[4.18,-0.004],[4.21,-0.007],[4.24,-0.001],[4.27,-0.004],[4.30,0.002],[4.33,-0.002],[4.36,0.004],[4.39,0.000],[4.42,0.005],[4.45,0.000],[4.48,0.004],[4.51,-0.008],[4.54,-0.015],[4.57,-0.020],[4.60,-0.025],[4.62,-0.030],[4.64,-0.022],[4.665,-0.03],[4.688,-0.365],[4.71,0.0],[4.725,0.02],[4.75,0.028],[4.78,0.025],[4.81,0.035],[4.84,0.030],[4.87,0.038],[4.90,0.040],[4.93,0.048],[4.96,0.058],[4.98,0.065],[5.00,0.060],[5.02,0.045],[5.05,0.020],[5.08,0.005],[5.11,-0.008],[5.14,0.000],[5.17,-0.005],[5.19,0.012],[5.21,0.002],[5.23,-0.004],[5.26,0.008],[5.29,-0.002],[5.32,0.005],[5.35,-0.004],[5.38,-0.012],[5.41,-0.014],[5.44,-0.008],[5.47,-0.012],[5.50,-0.005],[5.53,-0.008],[5.56,-0.002],[5.59,-0.006],[5.62,0.000],[5.65,-0.005],[5.68,0.001],[5.71,-0.006],[5.74,0.000],[5.77,-0.004],[5.80,0.002],[5.83,-0.005],[5.86,0.000],[5.89,-0.008],[5.92,-0.004],[5.95,-0.01],[5.973,-0.39],[5.995,0.0],[6.01,0.035],[6.04,0.042],[6.07,0.048],[6.10,0.052],[6.13,0.058],[6.16,0.060],[6.19,0.065],[6.22,0.080],[6.25,0.090],[6.27,0.080],[6.29,0.055],[6.31,0.030],[6.33,0.010],[6.35,0.000],[6.37,0.008],[6.40,0.015],[6.42,0.020],[6.44,0.012],[6.47,0.005],[6.50,0.004],[6.53,0.000],[6.56,-0.004],[6.59,-0.010],[6.62,-0.006],[6.65,-0.002],[6.68,-0.005],[6.71,0.000],[6.74,-0.004],[6.77,0.002],[6.80,-0.004],[6.83,0.002],[6.86,-0.006],[6.89,-0.002],[6.92,-0.007],[6.95,0.002],[6.98,-0.004],[7.01,0.004],[7.04,-0.002],[7.07,0.004],[7.10,-0.003],[7.13,0.002],[7.15,-0.010],[7.17,-0.002],[7.19,-0.008],[7.225,-0.01],[7.248,-0.405],[7.27,0.0],[7.285,0.035],[7.31,0.040],[7.34,0.045],[7.37,0.050],[7.40,0.055],[7.43,0.058],[7.46,0.065],[7.49,0.075],[7.52,0.085],[7.54,0.090],[7.56,0.078],[7.58,0.050],[7.60,0.025],[7.62,0.008],[7.64,0.000],[7.66,0.010],[7.68,0.018],[7.70,0.020],[7.72,0.010],[7.75,0.004],[7.78,0.006],[7.81,-0.002],[7.84,0.004],[7.87,-0.004],[7.90,0.000],[7.93,-0.006],[7.96,-0.002],[7.99,-0.008],[8.02,-0.002],[8.05,-0.006],[8.08,0.000],[8.11,-0.004],[8.14,0.002],[8.17,-0.005],[8.20,0.000],[8.23,-0.004],[8.26,0.003],[8.29,-0.002],[8.32,0.004],[8.35,-0.003],[8.38,0.005],[8.41,-0.002],[8.43,0.004],[8.45,-0.010],[8.47,-0.008],[8.49,-0.01],[8.513,-0.355],[8.54,0.0],[8.555,0.04],[8.58,0.050],[8.61,0.055],[8.64,0.062],[8.67,0.058],[8.70,0.055],[8.72,0.060],[8.74,0.075],[8.76,0.088],[8.775,0.090],[8.78,0.08],[8.781,0],[10.24,0]];

const leadH = [[0,0],[1.45,0],[1.451,0.05],[1.455,0.02],[1.46,-0.005],[1.47,0.02],[1.48,-0.010],[1.50,-0.014],[1.52,-0.010],[1.54,-0.016],[1.56,-0.013],[1.58,-0.020],[1.60,-0.017],[1.62,-0.024],[1.64,-0.020],[1.66,-0.027],[1.68,-0.023],[1.70,-0.030],[1.72,-0.024],[1.74,-0.028],[1.76,-0.022],[1.78,-0.026],[1.80,-0.018],[1.82,-0.012],[1.84,0.005],[1.86,0.002],[1.89,0.005],[1.92,0.001],[1.95,0.004],[1.98,-0.002],[2.01,0.002],[2.04,-0.005],[2.06,0.000],[2.08,0.010],[2.10,0.0],[2.118,-0.273],[2.14,-0.005],[2.155,0.0],[2.17,0.015],[2.20,0.020],[2.23,0.022],[2.26,0.020],[2.29,0.025],[2.32,0.028],[2.35,0.035],[2.38,0.042],[2.41,0.050],[2.44,0.055],[2.47,0.052],[2.50,0.042],[2.53,0.028],[2.56,0.018],[2.59,0.015],[2.62,0.020],[2.65,0.026],[2.68,0.020],[2.71,0.014],[2.74,0.010],[2.77,0.006],[2.80,0.004],[2.83,-0.002],[2.86,0.000],[2.89,-0.006],[2.92,-0.004],[2.95,-0.010],[2.98,-0.006],[3.01,-0.010],[3.04,-0.004],[3.07,-0.008],[3.10,-0.003],[3.13,-0.006],[3.16,-0.002],[3.19,-0.005],[3.22,0.000],[3.25,-0.004],[3.28,-0.002],[3.31,-0.008],[3.34,-0.004],[3.36,0.008],[3.385,0.010],[3.40,0.0],[3.415,-0.283],[3.435,-0.005],[3.445,0.0],[3.455,0.015],[3.48,0.020],[3.51,0.018],[3.54,0.022],[3.57,0.025],[3.60,0.030],[3.63,0.035],[3.66,0.042],[3.69,0.046],[3.72,0.040],[3.75,0.020],[3.78,0.005],[3.81,0.000],[3.84,0.005],[3.87,0.015],[3.90,0.010],[3.93,0.002],[3.96,0.004],[3.99,-0.004],[4.02,-0.002],[4.05,-0.006],[4.08,-0.003],[4.11,-0.006],[4.14,-0.002],[4.17,-0.006],[4.20,-0.003],[4.23,-0.006],[4.26,-0.002],[4.29,-0.006],[4.32,-0.003],[4.35,-0.005],[4.38,-0.002],[4.41,-0.006],[4.44,-0.003],[4.47,-0.007],[4.50,-0.002],[4.53,-0.006],[4.56,-0.004],[4.59,-0.010],[4.62,-0.004],[4.645,0.005],[4.672,-0.005],[4.69,-0.282],[4.71,-0.005],[4.72,0.0],[4.73,0.012],[4.76,0.015],[4.79,0.020],[4.82,0.022],[4.85,0.025],[4.88,0.030],[4.91,0.035],[4.94,0.040],[4.97,0.046],[5.00,0.040],[5.03,0.025],[5.06,0.005],[5.09,-0.004],[5.12,0.005],[5.15,0.010],[5.18,0.015],[5.21,0.008],[5.24,0.005],[5.27,0.008],[5.30,0.002],[5.33,0.004],[5.36,-0.002],[5.39,0.000],[5.42,-0.005],[5.45,-0.002],[5.48,-0.006],[5.51,-0.001],[5.54,-0.005],[5.57,0.000],[5.60,-0.004],[5.63,0.001],[5.66,-0.004],[5.69,0.000],[5.72,-0.005],[5.75,0.001],[5.78,-0.004],[5.81,0.002],[5.84,-0.003],[5.87,0.000],[5.90,-0.004],[5.925,-0.010],[5.955,0.0],[5.973,-0.27],[5.993,-0.005],[6.005,0.0],[6.015,0.012],[6.04,0.018],[6.07,0.016],[6.10,0.020],[6.13,0.018],[6.16,0.025],[6.19,0.030],[6.22,0.037],[6.25,0.040],[6.28,0.038],[6.31,0.025],[6.34,0.010],[6.37,0.004],[6.40,0.010],[6.43,0.015],[6.46,0.012],[6.49,0.006],[6.52,0.008],[6.55,0.003],[6.58,0.006],[6.61,0.002],[6.64,0.005],[6.67,0.000],[6.70,0.004],[6.73,-0.001],[6.76,0.003],[6.79,-0.002],[6.82,-0.004],[6.85,-0.010],[6.88,-0.008],[6.91,-0.012],[6.94,-0.009],[6.97,-0.012],[7.00,-0.010],[7.03,-0.013],[7.06,-0.011],[7.09,-0.016],[7.12,-0.014],[7.15,-0.019],[7.17,-0.008],[7.19,-0.012],[7.225,0.0],[7.245,-0.283],[7.265,-0.005],[7.275,0.0],[7.29,0.020],[7.32,0.025],[7.35,0.030],[7.38,0.032],[7.41,0.036],[7.44,0.040],[7.47,0.042],[7.50,0.048],[7.53,0.052],[7.56,0.045],[7.59,0.035],[7.62,0.020],[7.65,0.015],[7.68,0.013],[7.71,0.018],[7.74,0.020],[7.77,0.015],[7.80,0.008],[7.83,0.004],[7.86,0.000],[7.89,-0.004],[7.92,-0.002],[7.95,-0.006],[7.98,-0.003],[8.01,-0.006],[8.04,-0.002],[8.07,-0.005],[8.10,-0.002],[8.13,-0.006],[8.16,-0.002],[8.19,-0.005],[8.22,0.000],[8.25,-0.004],[8.28,0.001],[8.31,-0.003],[8.34,0.000],[8.37,-0.004],[8.40,0.000],[8.43,-0.006],[8.46,0.008],[8.49,0.012],[8.51,-0.275],[8.53,-0.005],[8.54,0.0],[8.55,0.020],[8.58,0.025],[8.61,0.022],[8.64,0.028],[8.67,0.030],[8.70,0.033],[8.73,0.038],[8.76,0.045],[8.775,0.048],[8.78,0.046],[8.781,0],[10.24,0]];

const leadI = [[0,0],[1.45,0],[1.451,0.005],[1.46,0.002],[1.47,-0.003],[1.49,-0.005],[1.51,0.000],[1.53,-0.006],[1.56,-0.004],[1.59,-0.009],[1.62,-0.006],[1.65,-0.010],[1.68,-0.008],[1.71,-0.011],[1.74,-0.008],[1.77,-0.011],[1.80,-0.009],[1.83,-0.012],[1.86,-0.009],[1.89,-0.011],[1.92,-0.010],[1.95,-0.012],[1.98,-0.009],[1.99,-0.002],[2.0,-0.012],[2.03,-0.011],[2.06,-0.013],[2.09,-0.012],[2.105,-0.014],[2.115,0.085],[2.122,0.06],[2.13,0.157],[2.138,0.0],[2.148,-0.075],[2.158,-0.02],[2.17,-0.005],[2.19,-0.008],[2.22,-0.012],[2.25,-0.008],[2.28,-0.004],[2.31,-0.006],[2.34,0.000],[2.37,0.002],[2.40,0.008],[2.43,0.012],[2.46,0.022],[2.48,0.027],[2.50,0.022],[2.52,0.027],[2.54,0.018],[2.57,0.022],[2.60,0.028],[2.63,0.033],[2.65,0.030],[2.68,0.022],[2.71,0.015],[2.74,0.008],[2.77,0.004],[2.80,0.000],[2.83,-0.003],[2.86,-0.006],[2.89,-0.008],[2.92,-0.004],[2.95,-0.007],[2.98,-0.003],[3.01,-0.005],[3.04,-0.002],[3.07,-0.004],[3.10,-0.001],[3.13,-0.004],[3.16,-0.002],[3.19,-0.003],[3.22,0.000],[3.25,-0.002],[3.27,0.005],[3.29,-0.002],[3.32,-0.004],[3.35,-0.002],[3.38,-0.004],[3.40,0.095],[3.41,0.09],[3.42,0.17],[3.43,0.0],[3.44,-0.098],[3.45,-0.02],[3.46,-0.005],[3.49,-0.008],[3.52,-0.004],[3.55,-0.006],[3.58,-0.002],[3.61,-0.008],[3.64,-0.004],[3.67,-0.001],[3.70,-0.006],[3.73,-0.002],[3.76,0.002],[3.79,0.006],[3.81,0.002],[3.84,-0.002],[3.87,0.004],[3.90,0.010],[3.93,0.018],[3.96,0.023],[3.99,0.018],[4.02,0.010],[4.05,0.002],[4.08,-0.003],[4.11,-0.006],[4.14,-0.008],[4.17,-0.007],[4.20,-0.009],[4.23,-0.007],[4.26,-0.010],[4.29,-0.008],[4.32,-0.010],[4.35,-0.008],[4.38,-0.010],[4.41,-0.009],[4.44,-0.011],[4.47,-0.009],[4.50,-0.011],[4.52,-0.006],[4.54,-0.010],[4.57,-0.011],[4.60,-0.012],[4.63,-0.012],[4.655,-0.010],[4.665,0.073],[4.675,0.0],[4.688,-0.005],[4.70,-0.11],[4.712,-0.03],[4.725,-0.008],[4.75,-0.004],[4.78,0.000],[4.81,0.003],[4.84,-0.002],[4.87,0.003],[4.90,0.006],[4.93,-0.002],[4.96,0.004],[4.99,0.002],[5.02,0.008],[5.05,0.012],[5.08,0.006],[5.11,0.004],[5.14,0.010],[5.17,0.015],[5.20,0.020],[5.23,0.026],[5.26,0.022],[5.29,0.012],[5.32,0.006],[5.35,0.002],[5.38,-0.002],[5.41,-0.004],[5.44,-0.006],[5.47,-0.004],[5.50,-0.007],[5.53,-0.005],[5.56,-0.007],[5.59,-0.004],[5.62,-0.006],[5.65,-0.004],[5.68,-0.006],[5.71,-0.003],[5.74,-0.006],[5.77,-0.004],[5.80,-0.006],[5.83,-0.003],[5.86,-0.006],[5.88,0.001],[5.90,-0.006],[5.92,-0.008],[5.945,-0.008],[5.955,0.08],[5.962,0.06],[5.97,0.107],[5.98,0.0],[5.99,-0.07],[6.0,-0.02],[6.01,-0.005],[6.04,-0.004],[6.07,-0.008],[6.10,-0.004],[6.13,-0.009],[6.16,-0.002],[6.19,-0.006],[6.22,0.000],[6.25,-0.008],[6.28,-0.004],[6.31,0.002],[6.34,0.008],[6.37,0.006],[6.40,0.004],[6.43,0.010],[6.46,0.016],[6.49,0.022],[6.52,0.025],[6.55,0.018],[6.58,0.010],[6.61,0.004],[6.64,0.000],[6.67,-0.003],[6.70,-0.005],[6.73,-0.004],[6.76,-0.006],[6.79,-0.004],[6.82,-0.006],[6.85,-0.004],[6.88,-0.006],[6.91,-0.004],[6.94,-0.006],[6.97,-0.004],[7.00,-0.006],[7.03,-0.004],[7.06,-0.005],[7.08,0.002],[7.10,-0.003],[7.13,-0.006],[7.16,-0.005],[7.19,-0.004],[7.22,-0.006],[7.235,0.09],[7.242,0.06],[7.25,0.165],[7.26,0.0],[7.27,-0.067],[7.28,-0.02],[7.29,-0.005],[7.32,-0.010],[7.35,-0.006],[7.38,-0.010],[7.41,-0.004],[7.44,-0.006],[7.47,-0.008],[7.50,-0.006],[7.53,-0.010],[7.56,-0.006],[7.59,0.000],[7.62,0.008],[7.65,0.012],[7.68,0.008],[7.71,0.012],[7.74,0.018],[7.77,0.024],[7.80,0.020],[7.83,0.012],[7.86,0.006],[7.89,0.000],[7.92,-0.003],[7.95,-0.005],[7.98,-0.004],[8.01,-0.006],[8.04,-0.004],[8.07,-0.006],[8.10,-0.005],[8.13,-0.006],[8.16,-0.004],[8.19,-0.005],[8.22,-0.004],[8.24,0.002],[8.26,-0.005],[8.29,-0.004],[8.32,-0.006],[8.35,-0.004],[8.38,-0.006],[8.41,-0.005],[8.44,-0.008],[8.47,-0.010],[8.49,-0.008],[8.50,0.085],[8.508,0.06],[8.515,0.125],[8.525,0.0],[8.535,-0.113],[8.545,-0.03],[8.555,-0.008],[8.58,-0.004],[8.60,0.003],[8.62,-0.005],[8.64,0.002],[8.66,-0.004],[8.68,0.003],[8.70,-0.002],[8.72,0.002],[8.75,-0.002],[8.78,0.000],[8.781,0],[10.24,0]];

const leadJ = [[0,0],[1.45,0],[1.451,0.013],[1.453,-0.05],[1.46,0.0],[1.49,-0.004],[1.52,-0.002],[1.55,-0.006],[1.58,-0.004],[1.61,-0.007],[1.64,-0.005],[1.67,-0.008],[1.70,-0.006],[1.73,-0.009],[1.76,-0.007],[1.79,-0.010],[1.82,-0.008],[1.85,-0.011],[1.88,-0.009],[1.91,-0.011],[1.94,-0.010],[1.97,-0.012],[2.00,-0.010],[2.03,-0.012],[2.06,-0.009],[2.085,-0.010],[2.10,0.05],[2.12,0.567],[2.135,0.1],[2.145,-0.025],[2.16,-0.028],[2.19,-0.032],[2.22,-0.035],[2.25,-0.038],[2.28,-0.037],[2.31,-0.040],[2.34,-0.038],[2.37,-0.041],[2.40,-0.039],[2.43,-0.040],[2.45,-0.035],[2.47,-0.015],[2.49,0.010],[2.51,0.022],[2.53,0.018],[2.56,0.022],[2.59,0.020],[2.62,0.025],[2.65,0.028],[2.68,0.022],[2.71,0.015],[2.74,0.010],[2.77,0.005],[2.80,0.002],[2.83,-0.002],[2.86,-0.004],[2.89,-0.006],[2.92,-0.005],[2.95,-0.008],[2.98,-0.006],[3.01,-0.009],[3.04,-0.007],[3.07,-0.009],[3.10,-0.007],[3.13,-0.009],[3.16,-0.007],[3.19,-0.009],[3.22,-0.006],[3.25,-0.004],[3.28,-0.002],[3.31,-0.004],[3.34,-0.008],[3.37,-0.010],[3.395,0.05],[3.415,0.577],[3.43,0.1],[3.44,-0.035],[3.46,-0.030],[3.49,-0.036],[3.52,-0.034],[3.55,-0.038],[3.58,-0.036],[3.61,-0.040],[3.64,-0.042],[3.67,-0.045],[3.70,-0.048],[3.72,-0.050],[3.74,-0.040],[3.76,-0.020],[3.78,0.000],[3.81,0.005],[3.84,0.004],[3.87,0.008],[3.90,0.012],[3.93,0.018],[3.95,0.020],[3.98,0.015],[4.01,0.008],[4.04,0.004],[4.07,0.001],[4.10,-0.001],[4.13,-0.003],[4.16,-0.004],[4.19,-0.006],[4.22,-0.006],[4.25,-0.008],[4.28,-0.008],[4.31,-0.010],[4.34,-0.010],[4.37,-0.012],[4.40,-0.012],[4.43,-0.014],[4.46,-0.014],[4.49,-0.016],[4.52,-0.016],[4.55,-0.018],[4.58,-0.017],[4.61,-0.020],[4.64,-0.019],[4.665,-0.020],[4.675,0.05],[4.69,0.49],[4.705,0.1],[4.715,-0.04],[4.73,-0.032],[4.76,-0.038],[4.79,-0.035],[4.82,-0.038],[4.85,-0.036],[4.88,-0.040],[4.91,-0.039],[4.94,-0.042],[4.97,-0.043],[5.00,-0.045],[5.02,-0.030],[5.04,-0.010],[5.06,0.002],[5.09,0.006],[5.12,0.008],[5.15,0.012],[5.18,0.015],[5.21,0.022],[5.23,0.025],[5.26,0.018],[5.29,0.010],[5.32,0.005],[5.35,0.002],[5.38,0.000],[5.41,-0.002],[5.44,-0.003],[5.47,-0.004],[5.50,-0.005],[5.53,-0.004],[5.56,-0.006],[5.59,-0.005],[5.62,-0.006],[5.65,-0.005],[5.68,-0.006],[5.71,-0.005],[5.74,-0.006],[5.77,-0.005],[5.80,-0.006],[5.83,-0.004],[5.86,-0.006],[5.89,-0.006],[5.92,-0.010],[5.945,-0.010],[5.955,0.05],[5.97,0.53],[5.985,0.1],[5.995,-0.025],[6.01,-0.028],[6.04,-0.034],[6.07,-0.035],[6.10,-0.038],[6.13,-0.037],[6.16,-0.040],[6.19,-0.041],[6.22,-0.043],[6.25,-0.046],[6.28,-0.048],[6.30,-0.035],[6.32,-0.015],[6.34,0.000],[6.37,0.005],[6.40,0.006],[6.43,0.010],[6.46,0.015],[6.49,0.018],[6.52,0.020],[6.55,0.015],[6.58,0.010],[6.61,0.005],[6.64,0.002],[6.67,0.000],[6.70,-0.002],[6.73,-0.002],[6.76,-0.003],[6.79,-0.003],[6.82,-0.004],[6.85,-0.003],[6.88,-0.004],[6.91,-0.004],[6.94,-0.005],[6.97,-0.004],[7.00,-0.005],[7.03,-0.005],[7.06,-0.006],[7.09,-0.005],[7.12,-0.007],[7.15,-0.006],[7.18,-0.007],[7.21,-0.008],[7.23,0.05],[7.245,0.555],[7.26,0.1],[7.27,-0.025],[7.29,-0.030],[7.32,-0.033],[7.35,-0.036],[7.38,-0.038],[7.41,-0.040],[7.44,-0.040],[7.47,-0.042],[7.50,-0.043],[7.53,-0.046],[7.56,-0.050],[7.58,-0.045],[7.60,-0.025],[7.62,-0.005],[7.64,0.005],[7.67,0.008],[7.70,0.010],[7.73,0.012],[7.76,0.015],[7.79,0.020],[7.82,0.016],[7.85,0.010],[7.88,0.005],[7.91,0.002],[7.94,0.000],[7.97,-0.002],[8.00,-0.003],[8.03,-0.004],[8.06,-0.004],[8.09,-0.005],[8.12,-0.004],[8.15,-0.006],[8.18,-0.005],[8.21,-0.006],[8.24,-0.005],[8.27,-0.007],[8.30,-0.006],[8.33,-0.007],[8.36,-0.007],[8.39,-0.008],[8.42,-0.008],[8.45,-0.010],[8.48,-0.009],[8.50,0.05],[8.515,0.538],[8.53,0.1],[8.54,-0.052],[8.55,-0.025],[8.57,-0.022],[8.60,-0.030],[8.63,-0.032],[8.66,-0.036],[8.69,-0.038],[8.72,-0.042],[8.75,-0.046],[8.77,-0.050],[8.78,-0.052],[8.781,0],[10.24,0]];

const leadK = [[0,0],[1.45,0],[1.451,0.015],[1.453,-0.063],[1.46,0.0],[1.49,-0.003],[1.52,-0.005],[1.55,-0.004],[1.58,-0.007],[1.61,-0.006],[1.64,-0.008],[1.67,-0.007],[1.70,-0.009],[1.73,-0.008],[1.76,-0.010],[1.79,-0.009],[1.82,-0.011],[1.85,-0.009],[1.88,-0.011],[1.91,-0.010],[1.94,-0.011],[1.97,-0.009],[2.00,-0.010],[2.03,-0.008],[2.06,-0.011],[2.09,-0.010],[2.105,0.05],[2.125,0.605],[2.14,0.1],[2.15,-0.02],[2.17,-0.035],[2.20,-0.040],[2.23,-0.042],[2.26,-0.044],[2.29,-0.043],[2.32,-0.046],[2.35,-0.045],[2.38,-0.047],[2.41,-0.046],[2.43,-0.040],[2.45,-0.020],[2.47,0.005],[2.49,0.015],[2.52,0.020],[2.55,0.018],[2.58,0.022],[2.61,0.020],[2.64,0.016],[2.67,0.012],[2.70,0.008],[2.73,0.004],[2.76,0.002],[2.79,-0.001],[2.82,-0.003],[2.85,-0.004],[2.88,-0.005],[2.91,-0.004],[2.94,-0.006],[2.97,-0.005],[3.00,-0.006],[3.03,-0.005],[3.06,-0.006],[3.09,-0.005],[3.12,-0.006],[3.15,-0.005],[3.18,-0.006],[3.21,-0.004],[3.24,-0.005],[3.27,-0.002],[3.29,0.004],[3.31,-0.002],[3.34,-0.005],[3.37,-0.006],[3.40,0.05],[3.42,0.617],[3.435,0.1],[3.445,-0.02],[3.47,-0.030],[3.50,-0.035],[3.53,-0.040],[3.56,-0.042],[3.59,-0.045],[3.62,-0.048],[3.65,-0.050],[3.68,-0.052],[3.71,-0.056],[3.74,-0.060],[3.76,-0.045],[3.78,-0.020],[3.80,0.000],[3.82,0.005],[3.85,0.004],[3.88,0.008],[3.91,0.007],[3.94,0.010],[3.97,0.012],[4.00,0.008],[4.03,0.005],[4.06,0.002],[4.09,0.000],[4.12,-0.001],[4.15,-0.002],[4.18,-0.002],[4.21,-0.003],[4.24,-0.003],[4.27,-0.004],[4.30,-0.004],[4.33,-0.005],[4.36,-0.004],[4.39,-0.005],[4.42,-0.005],[4.45,-0.006],[4.48,-0.006],[4.51,-0.007],[4.54,-0.007],[4.57,-0.008],[4.60,-0.007],[4.63,-0.009],[4.66,-0.009],[4.675,0.05],[4.69,0.615],[4.705,0.1],[4.715,-0.02],[4.73,-0.025],[4.76,-0.032],[4.79,-0.038],[4.82,-0.040],[4.85,-0.042],[4.88,-0.045],[4.91,-0.046],[4.94,-0.048],[4.97,-0.050],[5.00,-0.055],[5.02,-0.045],[5.04,-0.020],[5.06,0.000],[5.09,0.005],[5.12,0.004],[5.15,0.008],[5.18,0.010],[5.21,0.014],[5.23,0.015],[5.26,0.010],[5.29,0.006],[5.32,0.002],[5.35,0.000],[5.38,-0.002],[5.41,-0.003],[5.44,-0.004],[5.47,-0.005],[5.50,-0.005],[5.53,-0.006],[5.56,-0.005],[5.59,-0.006],[5.62,-0.006],[5.65,-0.007],[5.68,-0.006],[5.71,-0.007],[5.74,-0.007],[5.77,-0.008],[5.80,-0.007],[5.83,-0.008],[5.86,-0.008],[5.89,-0.009],[5.92,-0.008],[5.95,-0.009],[5.96,0.05],[5.975,0.595],[5.99,0.1],[6.0,-0.02],[6.02,-0.028],[6.05,-0.035],[6.08,-0.040],[6.11,-0.042],[6.14,-0.044],[6.17,-0.046],[6.20,-0.048],[6.23,-0.050],[6.26,-0.052],[6.28,-0.055],[6.30,-0.045],[6.32,-0.020],[6.34,0.000],[6.37,0.005],[6.40,0.008],[6.43,0.010],[6.46,0.012],[6.49,0.010],[6.52,0.012],[6.55,0.008],[6.58,0.005],[6.61,0.002],[6.64,0.000],[6.67,-0.002],[6.70,-0.003],[6.73,-0.004],[6.76,-0.004],[6.79,-0.005],[6.82,-0.005],[6.85,-0.006],[6.88,-0.005],[6.91,-0.006],[6.94,-0.006],[6.97,-0.007],[7.00,-0.006],[7.03,-0.007],[7.06,-0.006],[7.09,-0.005],[7.12,-0.007],[7.15,-0.008],[7.18,-0.007],[7.21,-0.008],[7.235,0.05],[7.25,0.59],[7.265,0.1],[7.275,-0.02],[7.29,-0.028],[7.32,-0.035],[7.35,-0.040],[7.38,-0.042],[7.41,-0.044],[7.44,-0.045],[7.47,-0.046],[7.50,-0.048],[7.53,-0.050],[7.56,-0.054],[7.58,-0.055],[7.60,-0.040],[7.62,-0.015],[7.64,0.002],[7.67,0.006],[7.70,0.008],[7.73,0.010],[7.76,0.009],[7.79,0.008],[7.82,0.005],[7.85,0.003],[7.88,0.001],[7.91,0.000],[7.94,-0.002],[7.97,-0.003],[8.00,-0.004],[8.03,-0.004],[8.06,-0.005],[8.09,-0.005],[8.12,-0.006],[8.15,-0.005],[8.18,-0.006],[8.21,-0.006],[8.24,-0.007],[8.27,-0.006],[8.30,-0.008],[8.33,-0.007],[8.36,-0.008],[8.39,-0.006],[8.42,-0.004],[8.45,-0.007],[8.48,-0.008],[8.50,0.05],[8.515,0.6],[8.53,0.1],[8.54,-0.02],[8.56,-0.030],[8.59,-0.035],[8.62,-0.040],[8.65,-0.043],[8.68,-0.046],[8.71,-0.050],[8.74,-0.055],[8.77,-0.060],[8.78,-0.063],[8.781,0],[10.24,0]];

const leadL = [[0,0],[1.45,0],[1.451,0.015],[1.453,-0.058],[1.46,0.0],[1.49,-0.002],[1.52,-0.001],[1.55,-0.004],[1.58,-0.002],[1.61,-0.005],[1.64,-0.003],[1.67,-0.006],[1.70,-0.004],[1.73,-0.007],[1.76,-0.005],[1.79,-0.008],[1.82,-0.006],[1.85,-0.009],[1.88,-0.007],[1.91,-0.010],[1.94,-0.008],[1.97,-0.010],[2.00,-0.008],[2.03,-0.004],[2.06,-0.008],[2.09,-0.007],[2.105,0.05],[2.125,0.468],[2.14,0.1],[2.15,-0.015],[2.17,-0.030],[2.20,-0.036],[2.23,-0.040],[2.26,-0.038],[2.29,-0.041],[2.32,-0.040],[2.35,-0.042],[2.38,-0.040],[2.41,-0.041],[2.43,-0.035],[2.45,-0.020],[2.47,0.000],[2.49,0.012],[2.51,0.018],[2.53,0.020],[2.56,0.017],[2.59,0.014],[2.62,0.010],[2.65,0.008],[2.68,0.005],[2.71,0.003],[2.74,0.001],[2.77,0.000],[2.80,-0.002],[2.83,-0.003],[2.86,-0.004],[2.89,-0.005],[2.92,-0.004],[2.95,-0.006],[2.98,-0.005],[3.01,-0.006],[3.04,-0.005],[3.07,-0.007],[3.10,-0.006],[3.13,-0.007],[3.16,-0.006],[3.19,-0.007],[3.22,-0.005],[3.25,-0.003],[3.28,0.003],[3.30,0.006],[3.32,-0.002],[3.35,-0.005],[3.38,-0.004],[3.40,0.05],[3.415,0.478],[3.43,0.1],[3.44,-0.015],[3.46,-0.030],[3.49,-0.035],[3.52,-0.038],[3.55,-0.040],[3.58,-0.042],[3.61,-0.045],[3.64,-0.048],[3.67,-0.052],[3.70,-0.055],[3.72,-0.057],[3.74,-0.045],[3.76,-0.025],[3.78,-0.005],[3.80,0.002],[3.83,0.004],[3.86,0.003],[3.89,0.004],[3.92,0.002],[3.95,0.003],[3.98,0.001],[4.01,0.001],[4.04,-0.001],[4.07,-0.001],[4.10,-0.002],[4.13,-0.003],[4.16,-0.003],[4.19,-0.004],[4.22,-0.004],[4.25,-0.005],[4.28,-0.004],[4.31,-0.006],[4.34,-0.005],[4.37,-0.006],[4.40,-0.006],[4.43,-0.007],[4.46,-0.006],[4.49,-0.007],[4.52,-0.007],[4.55,-0.008],[4.58,-0.008],[4.61,-0.008],[4.64,-0.009],[4.665,-0.008],[4.675,0.05],[4.69,0.497],[4.705,0.1],[4.715,-0.015],[4.73,-0.030],[4.76,-0.035],[4.79,-0.038],[4.82,-0.040],[4.85,-0.042],[4.88,-0.045],[4.91,-0.047],[4.94,-0.050],[4.97,-0.052],[5.00,-0.055],[5.02,-0.040],[5.04,-0.015],[5.06,0.002],[5.09,0.006],[5.12,0.004],[5.15,0.006],[5.18,0.004],[5.21,0.005],[5.24,0.003],[5.27,0.003],[5.30,0.001],[5.33,0.001],[5.36,0.000],[5.39,-0.001],[5.42,-0.002],[5.45,-0.002],[5.48,-0.003],[5.51,-0.003],[5.54,-0.004],[5.57,-0.003],[5.60,-0.004],[5.63,-0.004],[5.66,-0.005],[5.69,-0.004],[5.72,-0.005],[5.75,-0.005],[5.78,-0.006],[5.81,-0.005],[5.84,-0.006],[5.87,-0.005],[5.90,-0.006],[5.93,-0.005],[5.955,0.05],[5.97,0.465],[5.985,0.1],[5.995,-0.015],[6.01,-0.030],[6.04,-0.035],[6.07,-0.038],[6.10,-0.040],[6.13,-0.042],[6.16,-0.043],[6.19,-0.045],[6.22,-0.047],[6.25,-0.050],[6.27,-0.053],[6.29,-0.040],[6.31,-0.015],[6.33,0.002],[6.36,0.008],[6.39,0.007],[6.42,0.008],[6.45,0.006],[6.48,0.005],[6.51,0.004],[6.54,0.003],[6.57,0.002],[6.60,0.001],[6.63,0.000],[6.66,-0.001],[6.69,-0.002],[6.72,-0.002],[6.75,-0.003],[6.78,-0.003],[6.81,-0.004],[6.84,-0.003],[6.87,-0.004],[6.90,-0.004],[6.93,-0.005],[6.96,-0.004],[6.99,-0.005],[7.02,-0.005],[7.05,-0.006],[7.08,-0.004],[7.11,-0.002],[7.14,-0.005],[7.17,-0.006],[7.20,-0.005],[7.23,0.05],[7.245,0.46],[7.26,0.1],[7.27,-0.015],[7.29,-0.030],[7.32,-0.035],[7.35,-0.038],[7.38,-0.040],[7.41,-0.042],[7.44,-0.043],[7.47,-0.044],[7.50,-0.045],[7.53,-0.047],[7.56,-0.050],[7.58,-0.052],[7.60,-0.035],[7.62,-0.010],[7.64,0.005],[7.67,0.010],[7.70,0.012],[7.73,0.010],[7.76,0.008],[7.79,0.006],[7.82,0.004],[7.85,0.002],[7.88,0.001],[7.91,0.000],[7.94,-0.001],[7.97,-0.002],[8.00,-0.003],[8.03,-0.003],[8.06,-0.004],[8.09,-0.004],[8.12,-0.005],[8.15,-0.004],[8.18,-0.005],[8.21,-0.005],[8.24,-0.006],[8.27,-0.005],[8.30,-0.006],[8.33,-0.006],[8.36,-0.007],[8.39,-0.006],[8.42,-0.004],[8.45,-0.002],[8.48,-0.006],[8.50,0.05],[8.515,0.47],[8.53,0.1],[8.54,-0.015],[8.56,-0.030],[8.59,-0.035],[8.62,-0.040],[8.65,-0.042],[8.68,-0.045],[8.71,-0.048],[8.74,-0.052],[8.77,-0.058],[8.78,-0.060],[8.781,0],[10.24,0]];

// panel order: row by row, left then right
const panelLeads = [leadA, leadB, leadC, leadD, leadE, leadF, leadG, leadH, leadI, leadJ, leadK, leadL];
const yTicksA = [-0.025, 0, 0.025, 0.05, 0.075, 0.1, 0.125];
const yTicksB = [-0.1, 0, 0.1, 0.2, 0.3];
const yTicksC = [-0.1, 0, 0.1, 0.2];
const yTicksD = [-0.05, 0, 0.05, 0.1];
const yTicksE = [-0.1, 0, 0.1, 0.2];
const yTicksF = [-0.2, -0.15, -0.1, -0.05, 0, 0.05];
const yTicksG = [-0.4, -0.3, -0.2, -0.1, 0, 0.1];
const yTicksH = [-0.3, -0.2, -0.1, 0];
const yTicksI = [-0.1, -0.05, 0, 0.05, 0.1, 0.15];
const yTicksJ = [0, 0.1, 0.2, 0.3, 0.4, 0.5, 0.6];
const yTicksK = [0, 0.2, 0.4, 0.6];
const yTicksL = [0, 0.1, 0.2, 0.3, 0.4, 0.5];
const panelYTicks = [yTicksA, yTicksB, yTicksC, yTicksD, yTicksE, yTicksF, yTicksG, yTicksH, yTicksI, yTicksJ, yTicksK, yTicksL];
const panelYDecimals = [3, 1, 1, 2, 1, 2, 1, 1, 2, 1, 1, 1];

// ---------- LAYOUT / STYLE ----------
const AX_LEFT = [225, 986];
const AX_TOP = [240, 504, 768, 1032, 1296, 1560];
const AX_W = 634, AX_H = 220;
const PAD_L = 130, Y_W = 60, PAD_T = 20, PAD_R = 20, PAD_B = 70;
const FONT = "'DejaVu Sans'";
const FS = 13.9;
const X_MIN = -0.512, X_MAX = 10.752;
const GRID = 'rgba(176,176,176,0.35)';

function fmt(v, d) {
  const s = Math.abs(v) < 1e-12 ? (0).toFixed(d) : v.toFixed(d);
  return s.replace('-', '\u2212');
}

const mplFrame = {
  id: 'mplFrame',
  afterDraw(chart, args, o) {
    const ctx = chart.ctx, a = chart.chartArea;
    ctx.save();
    ctx.strokeStyle = '#000';
    ctx.lineWidth = 1.1;
    ctx.strokeRect(a.left, a.top, a.right - a.left, a.bottom - a.top);
    ctx.fillStyle = '#000';
    ctx.font = FS + 'px ' + FONT;
    if (o.xlabel) {
      ctx.textAlign = 'center';
      ctx.textBaseline = 'middle';
      ctx.fillText(o.xlabel, (a.left + a.right) / 2, a.bottom + 37);
    }
    if (o.ylabel) {
      let w = 0;
      for (const t of chart.scales.y.ticks) w = Math.max(w, ctx.measureText(String(t.label)).width);
      const x = a.left - 9.7 - w - 5.6 - 7;
      ctx.translate(x, (a.top + a.bottom) / 2);
      ctx.rotate(-Math.PI / 2);
      ctx.textAlign = 'center';
      ctx.textBaseline = 'middle';
      ctx.fillText(o.ylabel, 0, 0);
    }
    ctx.restore();
  }
};

function makePanel(i) {
  const r = Math.floor(i / 2), c = i % 2;
  const W = PAD_L + AX_W + PAD_R, H = PAD_T + AX_H + PAD_B;
  const cv = document.createElement('canvas');
  cv.width = W; cv.height = H;
  cv.style.width = W + 'px'; cv.style.height = H + 'px';
  cv.style.left = (AX_LEFT[c] - PAD_L) + 'px';
  cv.style.top = (AX_TOP[r] - PAD_T) + 'px';
  document.body.appendChild(cv);

  const data = panelLeads[i];
  let lo = Infinity, hi = -Infinity;
  for (const p of data) { if (p[1] < lo) lo = p[1]; if (p[1] > hi) hi = p[1]; }
  const m = (hi - lo) * 0.05;
  const yt = panelYTicks[i], dec = panelYDecimals[i];

  new Chart(cv, {
    type: 'line',
    data: { datasets: [{ data: data, borderColor: '#1f77b4', borderWidth: 2.08, pointRadius: 0,
      tension: 0, fill: false, borderJoinStyle: 'round', borderCapStyle: 'butt' }] },
    options: {
      responsive: false, animation: false, devicePixelRatio: 1, events: [],
      layout: { padding: { left: PAD_L - Y_W, top: PAD_T, right: PAD_R, bottom: 0 } },
      plugins: { legend: { display: false }, tooltip: { enabled: false },
        mplFrame: { ylabel: c === 0 ? yLabel : null, xlabel: r === 5 ? xLabel : null } },
      scales: {
        x: {
          type: 'linear', position: 'bottom', min: X_MIN, max: X_MAX,
          afterBuildTicks: s => { s.ticks = xTicks.map(v => ({ value: v })); },
          afterFit: s => { s.height = PAD_B; },
          ticks: { color: '#000', font: { family: FONT, size: FS }, padding: 3, maxRotation: 0, autoSkip: false,
            callback: v => String(v) },
          grid: { color: GRID, lineWidth: 1.1, drawTicks: true, tickLength: 5, tickColor: '#000', tickWidth: 1.1 },
          border: { display: false }
        },
        y: {
          type: 'linear', position: 'left', min: lo - m, max: hi + m,
          afterBuildTicks: s => { s.ticks = yt.map(v => ({ value: v })); },
          afterFit: s => { s.width = Y_W; },
          ticks: { color: '#000', font: { family: FONT, size: FS }, padding: 5, autoSkip: false,
            callback: v => fmt(v, dec) },
          grid: { color: GRID, lineWidth: 1.1, drawTicks: true, tickLength: 5, tickColor: '#000', tickWidth: 1.1 },
          border: { display: false }
        }
      }
    },
    plugins: [mplFrame]
  });
}

for (let i = 0; i < 12; i++) makePanel(i);
</script>
</body></html>
